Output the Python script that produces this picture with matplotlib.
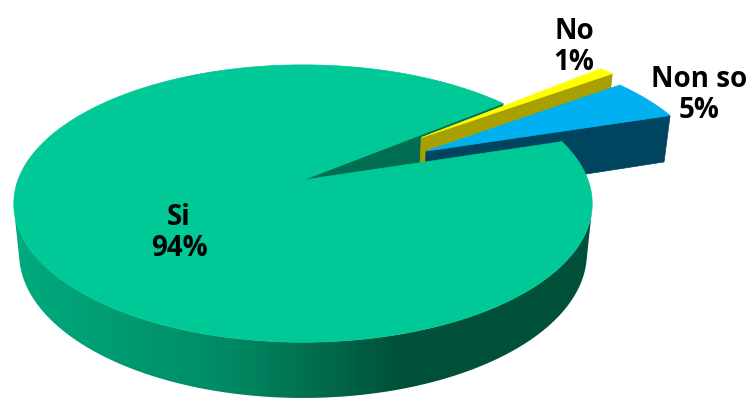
import numpy as np
import matplotlib
matplotlib.use("Agg")
import matplotlib.pyplot as plt
from matplotlib.patches import Polygon
from matplotlib.colors import LinearSegmentedColormap

# Survey answers and their shares (percent)
labels = ["Si", "No", "Non so"]
values = [94, 1, 5]

# Styling for each slice: top face, cut-wall face, explode distance (radius units)
top_colors = ["#00C896", "#FFFF00", "#00B0F0"]
wall_colors = ["#006E50", "#A8A000", "#00455F"]
explode = [0.0, 0.55, 0.5]
label_xy = [(179, 233), (574, 47), (699, 95)]

# 3-D view parameters
first_angle = 72.6            # first slice starts this many degrees clockwise from 12 o'clock
tilt = np.radians(28.2)       # camera elevation
dist = 5.19                   # camera distance (radius units) -> perspective strength
scale = 285                   # pixels per radius unit at the pie centre
cx, cy = 303, 180             # pixel position of the pie centre (top face)
thick = 0.20                  # pie thickness (radius units)

S, C = np.sin(tilt), np.cos(tilt)
cam = np.array([0.0, -dist * C, dist * S])

side_cmap = LinearSegmentedColormap.from_list(
    "side", [(0.0, "#00AA7E"), (0.55, "#008A63"), (1.0, "#00503A")])


def project(u, v, z):
    u = np.asarray(u, float)
    v = np.asarray(v, float)
    z = np.asarray(z, float)
    Y = v * S + z * C
    w = dist + v * C - z * S
    return cx + scale * u * dist / w, cy - scale * Y * dist / w


def faces_camera(p, n):
    return np.dot(cam - p, n) > 0


fig = plt.figure(figsize=(7.5, 4.01), dpi=100)
ax = fig.add_axes([0, 0, 1, 1])
ax.set_xlim(0, 750)
ax.set_ylim(401, 0)
ax.axis("off")

total = float(sum(values))
a0 = 90.0 - first_angle
spans = []
cum = 0.0
for val in values:
    start = a0 - cum * 360 / total
    end = start - val * 360 / total
    spans.append((end, start))     # counter-clockwise order (t1, t2)
    cum += val


def slice_geometry(i):
    t1, t2 = spans[i]
    mid = np.radians((t1 + t2) / 2)
    ox, oy = explode[i] * np.cos(mid), explode[i] * np.sin(mid)
    return t1, t2, ox, oy


def draw_walls(i, zorder):
    t1, t2, ox, oy = slice_geometry(i)
    # curved outer side: keep only the part turned towards the camera
    ts = np.radians(np.linspace(t1, t2, max(int(abs(t2 - t1) * 4), 8)))
    vis = np.array([faces_camera(np.array([ox + np.cos(t), oy + np.sin(t), -thick / 2]),
                                 np.array([np.cos(t), np.sin(t), 0.0])) for t in ts])
    if vis.any():
        tv = ts[vis]
        ux, vy = ox + np.cos(tv), oy + np.sin(tv)
        xa, ya = project(ux, vy, np.zeros_like(tv))
        xb, yb = project(ux, vy, np.full_like(tv, -thick))
        pts = np.column_stack([np.concatenate([xa, xb[::-1]]),
                               np.concatenate([ya, yb[::-1]])])
        if i == 0:
            clip = Polygon(pts, closed=True, facecolor="none", edgecolor="none")
            ax.add_patch(clip)
            x0, x1 = pts[:, 0].min(), pts[:, 0].max()
            y0, y1 = pts[:, 1].min(), pts[:, 1].max()
            grad = np.clip((np.linspace(x0, x1, 512) - 20) / (400 - 20), 0, 1)[None, :]
            im = ax.imshow(grad, cmap=side_cmap, vmin=0, vmax=1, aspect="auto",
                           extent=(x0, x1, y1, y0), interpolation="bilinear",
                           zorder=zorder)
            im.set_clip_path(clip)
        else:
            ax.add_patch(Polygon(pts, closed=True, facecolor=wall_colors[i],
                                 edgecolor=wall_colors[i], linewidth=0.5,
                                 zorder=zorder))
    # radial cut walls
    for t, sign in ((t1, -1), (t2, 1)):
        tr = np.radians(t)
        nrm = np.array([np.cos(tr + sign * np.pi / 2), np.sin(tr + sign * np.pi / 2), 0.0])
        p = np.array([ox + 0.5 * np.cos(tr), oy + 0.5 * np.sin(tr), -thick / 2])
        if not faces_camera(p, nrm):
            continue
        us = [ox, ox + np.cos(tr), ox + np.cos(tr), ox]
        vs = [oy, oy + np.sin(tr), oy + np.sin(tr), oy]
        zs = [0, 0, -thick, -thick]
        px, py = project(us, vs, zs)
        ax.add_patch(Polygon(np.column_stack([px, py]), closed=True,
                             facecolor=wall_colors[i], edgecolor=wall_colors[i],
                             linewidth=0.5, zorder=zorder + 0.1))


def draw_top(i, zorder):
    t1, t2, ox, oy = slice_geometry(i)
    ts = np.radians(np.linspace(t1, t2, max(int(abs(t2 - t1) * 4), 8)))
    us = np.concatenate([[ox], ox + np.cos(ts)])
    vs = np.concatenate([[oy], oy + np.sin(ts)])
    px, py = project(us, vs, np.zeros_like(us))
    ax.add_patch(Polygon(np.column_stack([px, py]), closed=True,
                         facecolor=top_colors[i], edgecolor=top_colors[i],
                         linewidth=0.5, zorder=zorder))


# back to front: main slice sides, exploded slices, main slice top
draw_walls(0, 1)
draw_walls(1, 2)
draw_top(1, 3)
draw_walls(2, 4)
draw_top(2, 5)
draw_top(0, 6)

for lab, val, (lx, ly) in zip(labels, values, label_xy):
    ax.text(lx, ly, f"{lab}\n{val}%", ha="center", va="center",
            fontsize=20, fontweight="bold", family="Open Sans",
            color="black", linespacing=1.1, zorder=10)

fig.savefig("out.png", dpi=100, facecolor="white")
